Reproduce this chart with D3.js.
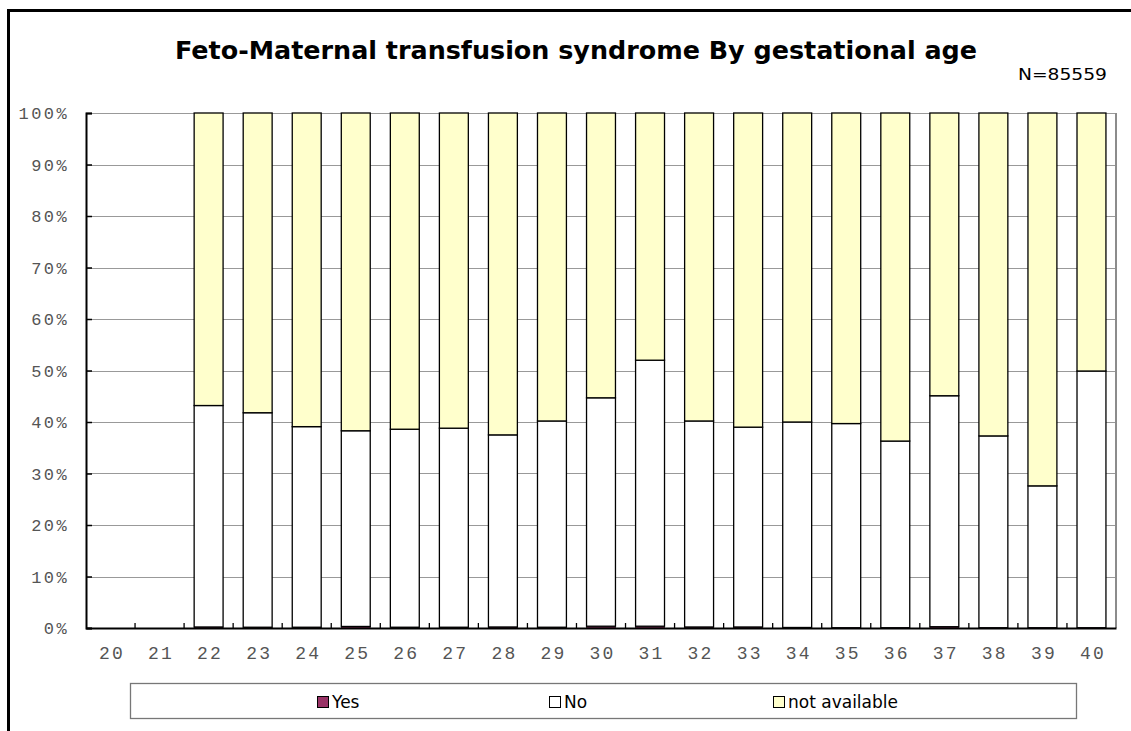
<!DOCTYPE html>
<html>
<head>
<meta charset="utf-8">
<script src="https://cdn.jsdelivr.net/npm/d3@7"></script>
<style>
  html, body { margin: 0; padding: 0; background: #fff; }
  svg { display: block; }
</style>
</head>
<body>
<script>
const categories = ["20","21","22","23","24","25","26","27","28","29","30","31","32","33","34","35","36","37","38","39","40"];
const yesValues = [0,0,0.2,0.15,0.15,0.3,0.15,0.15,0.2,0.15,0.35,0.35,0.2,0.2,0.1,0.05,0.05,0.25,0.05,0.05,0.05];
const noTops    = [0,0,43.2,41.8,39.1,38.3,38.6,38.8,37.5,40.2,44.7,52.0,40.2,39.0,40.0,39.7,36.3,45.1,37.3,27.6,49.9];
const naTops    = [0,0,100,100,100,100,100,100,100,100,100,100,100,100,100,100,100,100,100,100,100];
const seriesNames = ["Yes","No","not available"];
const seriesColors = ["#993366","#ffffff","#ffffcc"];
const yTicks = [0,10,20,30,40,50,60,70,80,90,100];
const titleText = "Feto-Maternal transfusion syndrome By gestational age";
const nText = "N=85559";

const W = 1131, H = 731;
const pLeft = 86, pRight = 1116, pTop = 113, pBottom = 628;

const svg = d3.select("body").append("svg").attr("width", W).attr("height", H);

// outer border
svg.append("rect").attr("x", 8.5).attr("y", 10.5).attr("width", W).attr("height", H)
  .attr("fill", "none").attr("stroke", "#000").attr("stroke-width", 3);

const x = d3.scaleBand().domain(categories).range([pLeft, pRight]).paddingInner(0.41).paddingOuter(0.205);
const xb = d3.scaleBand().domain(categories).range([pLeft, pRight]);
const y = d3.scaleLinear().domain([0, 100]).range([pBottom, pTop]);

// gridlines
svg.append("g").selectAll("line").data(yTicks.filter(d => d > 0)).join("line")
  .attr("x1", pLeft).attr("x2", pRight)
  .attr("y1", d => Math.round(y(d)) + 0.5).attr("y2", d => Math.round(y(d)) + 0.5)
  .attr("stroke", "#999").attr("stroke-width", 1.2);

// right plot edge
svg.append("line").attr("x1", pRight).attr("x2", pRight).attr("y1", pTop).attr("y2", pBottom)
  .attr("stroke", "#8c8c8c").attr("stroke-width", 2);

// stacked data
const rows = categories.map((c, i) => ({
  cat: c,
  segs: [
    [0, yesValues[i]],
    [yesValues[i], noTops[i]],
    [noTops[i], naTops[i]]
  ]
}));

const gBars = svg.append("g");
seriesNames.forEach((s, si) => {
  gBars.append("g").selectAll("rect")
    .data(rows.filter(r => r.segs[si][1] - r.segs[si][0] > 0))
    .join("rect")
    .attr("x", r => x(r.cat))
    .attr("width", x.bandwidth())
    .attr("y", r => y(r.segs[si][1]))
    .attr("height", r => y(r.segs[si][0]) - y(r.segs[si][1]))
    .attr("fill", seriesColors[si])
    .attr("stroke", "#000")
    .attr("stroke-width", si === 0 ? 0.6 : 1.3);
});

// axes
const yAxis = d3.axisLeft(y).tickValues(yTicks).tickSize(-6).tickFormat("");
const gy = svg.append("g").attr("transform", `translate(${pLeft},0)`).call(yAxis);
gy.select(".domain").attr("stroke", "#000").attr("stroke-width", 2);
gy.selectAll(".tick line").attr("stroke", "#000").attr("stroke-width", 1.5);

const xAxis = d3.axisBottom(xb).tickSize(0).tickFormat("");
const gx = svg.append("g").attr("transform", `translate(0,${pBottom})`).call(xAxis);
gx.select(".domain").attr("stroke", "#000").attr("stroke-width", 2);
// inward boundary ticks
svg.append("g").selectAll("line").data(categories.slice(1)).join("line")
  .attr("x1", d => xb(d)).attr("x2", d => xb(d))
  .attr("y1", pBottom - 5).attr("y2", pBottom)
  .attr("stroke", "#000").attr("stroke-width", 1.3);

// y tick labels
svg.append("g").selectAll("text").data(yTicks).join("text")
  .attr("x", 69).attr("y", d => y(d) + 6)
  .attr("text-anchor", "end")
  .attr("font-family", "Liberation Mono, DejaVu Sans Mono, monospace")
  .attr("font-size", 17).attr("letter-spacing", 2.4)
  .attr("fill", "#555")
  .text(d => d + "%");

// x tick labels
svg.append("g").selectAll("text").data(categories).join("text")
  .attr("x", d => xb(d) + xb.bandwidth() / 2 + 1.5).attr("y", 659)
  .attr("text-anchor", "middle")
  .attr("font-family", "Liberation Mono, DejaVu Sans Mono, monospace")
  .attr("font-size", 18).attr("letter-spacing", 2.2)
  .attr("fill", "#555")
  .text(d => d);

// title
svg.append("text").attr("x", 175).attr("y", 59)
  .attr("font-family", "DejaVu Sans, Verdana, sans-serif")
  .attr("font-weight", "bold").attr("font-size", 25)
  .attr("textLength", 802).attr("lengthAdjust", "spacingAndGlyphs")
  .attr("fill", "#000").text(titleText);

svg.append("text").attr("x", 1018).attr("y", 80)
  .attr("font-family", "DejaVu Sans, Verdana, sans-serif")
  .attr("font-size", 16)
  .attr("textLength", 89).attr("lengthAdjust", "spacingAndGlyphs")
  .attr("fill", "#000").text(nText);

// legend
svg.append("rect").attr("x", 130.5).attr("y", 683.5).attr("width", 946).attr("height", 35)
  .attr("fill", "#fff").attr("stroke", "#777").attr("stroke-width", 1.3);
const legendX = [317, 549, 773];
const lg = svg.append("g").selectAll("g").data(seriesNames).join("g")
  .attr("transform", (d, i) => `translate(${legendX[i]},0)`);
lg.append("rect").attr("x", 0.5).attr("y", 696.5).attr("width", 11).attr("height", 11)
  .attr("fill", (d, i) => seriesColors[i]).attr("stroke", "#000").attr("stroke-width", 1);
lg.append("text").attr("x", 15).attr("y", 708)
  .attr("font-family", "DejaVu Sans, Verdana, sans-serif")
  .attr("font-size", 17).attr("fill", "#000")
  .text(d => d);
</script>
</body>
</html>
